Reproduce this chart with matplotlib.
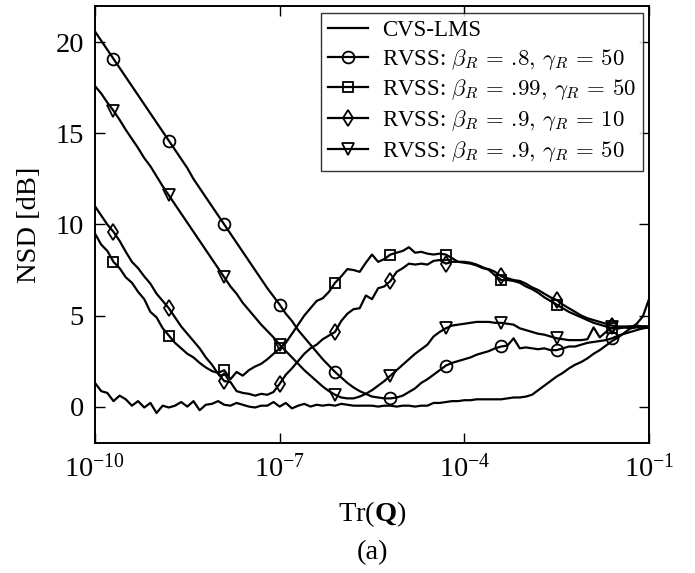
import numpy as np
import matplotlib
matplotlib.use("Agg")
import matplotlib.pyplot as plt
from matplotlib.font_manager import FontProperties
from matplotlib.ticker import FixedLocator, NullLocator

plt.rcParams['font.family'] = ['Liberation Serif', 'DejaVu Serif']
plt.rcParams['mathtext.fontset'] = 'custom'
plt.rcParams['mathtext.rm'] = 'Liberation Serif'
plt.rcParams['mathtext.it'] = 'Liberation Serif:italic'
plt.rcParams['mathtext.bf'] = 'Liberation Serif:bold'

# Tr(Q) exponent grid, 0.1 decade steps from 1e-10 to 1e-1
log_trq = np.linspace(-10, -1, 91)

cvs_lms = [1.3, 0.85, 0.75, 0.3, 0.6, 0.4, 0.05, 0.3, -0.05, 0.2,
           -0.35, 0.05, -0.05, 0.05, 0.25, 0.0, 0.3, -0.2, 0.1, 0.15,
           0.3, 0.1, 0.05, 0.2, 0.1, 0.0, -0.05, 0.05, 0.05, 0.25,
           0.0, 0.2, -0.1, 0.05, 0.15, 0.0, 0.1, 0.05, 0.1, 0.05,
           0.15, 0.1, 0.05, 0.05, 0.05, 0.05, 0.0, 0.05, 0.05, 0.0,
           0.05, 0.05, 0.0, 0.05, 0.05, 0.2, 0.2, 0.25, 0.3, 0.3,
           0.35, 0.35, 0.4, 0.4, 0.4, 0.4, 0.4, 0.45, 0.5, 0.5,
           0.55, 0.65, 0.9, 1.15, 1.4, 1.65, 1.85, 2.1, 2.3, 2.45,
           2.65, 2.9, 3.1, 3.35, 3.6, 3.8, 4.05, 4.3, 4.55, 4.95,
           5.9]

rvss_08_50 = [20.6, 20.1, 19.6, 19.1, 18.6, 18.1, 17.6, 17.1, 16.6, 16.1,
              15.6, 15.1, 14.6, 14.1, 13.6, 13.1, 12.5, 12.0, 11.5, 11.0,
              10.5, 10.0, 9.5, 9.0, 8.5, 8.0, 7.5, 7.0, 6.5, 6.05,
              5.6, 5.1, 4.7, 4.2, 3.8, 3.4, 3.0, 2.6, 2.25, 1.9,
              1.6, 1.3, 1.05, 0.85, 0.7, 0.55, 0.5, 0.45, 0.45, 0.5,
              0.6, 0.8, 1.0, 1.3, 1.5, 1.75, 2.0, 2.25, 2.4, 2.5,
              2.6, 2.7, 2.85, 2.95, 3.05, 3.2, 3.3, 3.35, 3.75, 3.2,
              3.25, 3.2, 3.15, 3.2, 3.1, 3.1, 3.2, 3.3, 3.3, 3.4,
              3.5, 3.55, 3.6, 3.65, 3.75, 3.9, 4.0, 4.1, 4.2, 4.3,
              4.35]

rvss_099_50 = [9.5, 8.9, 8.55, 7.95, 7.6, 7.1, 6.8, 6.3, 5.9, 5.2,
               4.9, 4.3, 3.9, 3.5, 3.2, 2.9, 2.7, 2.4, 2.15, 1.95,
               1.85, 2.0, 1.5, 1.9, 1.7, 2.0, 2.2, 2.35, 2.6, 2.9,
               3.2, 3.5, 4.0, 4.5, 5.0, 5.4, 5.8, 5.95, 6.3, 6.8,
               7.15, 7.55, 7.5, 7.4, 7.9, 8.35, 7.95, 8.1, 8.35, 8.45,
               8.55, 8.75, 8.45, 8.5, 8.4, 8.35, 8.4, 8.35, 8.15, 7.95,
               7.95, 7.9, 7.8, 7.65, 7.5, 7.2, 6.95, 6.95, 6.9, 6.8,
               6.6, 6.45, 6.25, 6.0, 5.8, 5.6, 5.4, 5.2, 5.05, 4.9,
               4.75, 4.6, 4.5, 4.4, 4.3, 4.3, 4.35, 4.4, 4.4, 4.4,
               4.4]

rvss_09_10 = [11.0, 10.5, 10.0, 9.6, 9.1, 8.5, 7.95, 7.6, 7.15, 6.75,
              6.2, 5.8, 5.4, 4.9, 4.4, 4.0, 3.6, 3.2, 2.7, 2.3,
              1.8, 1.4, 1.35, 0.85, 0.75, 0.7, 0.6, 0.7, 0.65, 0.8,
              1.25, 1.75, 2.1, 2.5, 2.9, 3.2, 3.4, 3.7, 3.9, 4.1,
              4.7, 5.1, 5.35, 5.4, 6.1, 5.9, 6.5, 6.6, 6.9, 7.4,
              7.6, 7.85, 7.8, 7.85, 7.8, 8.0, 8.05, 7.85, 7.95, 7.95,
              7.9, 7.85, 7.75, 7.6, 7.55, 7.4, 7.15, 7.05, 6.95, 6.9,
              6.75, 6.55, 6.4, 6.2, 6.0, 5.85, 5.6, 5.4, 5.2, 5.0,
              4.85, 4.75, 4.65, 4.55, 4.45, 4.4, 4.4, 4.4, 4.45, 4.4,
              4.4]

rvss_09_50 = [17.6, 17.2, 16.7, 16.25, 15.75, 15.2, 14.7, 14.2, 13.65, 13.2,
              12.65, 12.1, 11.6, 11.1, 10.6, 10.1, 9.6, 9.1, 8.6, 8.1,
              7.6, 7.1, 6.6, 6.2, 5.7, 5.3, 4.9, 4.5, 4.15, 3.8,
              3.4, 3.05, 2.7, 2.35, 2.0, 1.7, 1.4, 1.1, 0.85, 0.65,
              0.5, 0.45, 0.45, 0.55, 0.7, 0.9, 1.15, 1.4, 1.7, 2.0,
              2.3, 2.6, 2.9, 3.15, 3.4, 3.85, 4.1, 4.3, 4.45, 4.5,
              4.55, 4.6, 4.65, 4.65, 4.65, 4.6, 4.6, 4.55, 4.5, 4.3,
              4.2, 4.1, 4.0, 3.95, 3.85, 3.75, 3.7, 3.65, 3.65, 3.65,
              3.7, 4.35, 3.8, 4.1, 4.35, 4.3, 4.35, 4.3, 4.35, 4.3,
              4.35]

labels = ['CVS-LMS',
          r'RVSS: $\beta_R \,=\, .\!8,\, \gamma_R \,=\, 50$',
          r'RVSS: $\beta_R \,=\, .\!99,\, \gamma_R \,=\, 50$',
          r'RVSS: $\beta_R \,=\, .\!9,\, \gamma_R \,=\, 10$',
          r'RVSS: $\beta_R \,=\, .\!9,\, \gamma_R \,=\, 50$']
series = [cvs_lms, rvss_08_50, rvss_099_50, rvss_09_10, rvss_09_50]
markers = [None, 'o', 's', 'd', 'v']
msizes = [0, 8.5, 6.5, 8.5, 8.5]

trq = 10.0 ** log_trq

fig = plt.figure(figsize=(6.95, 5.73), dpi=100)
ax = fig.add_axes([95 / 695, 1 - 443 / 573, 554 / 695, 437 / 573])

for y, lab, m, ms in zip(series, labels, markers, msizes):
    ax.plot(trq, y, color='black', lw=1.6, marker=m, markersize=ms,
            markerfacecolor='none', markeredgewidth=1.3,
            markevery=(3, 9), label=lab)

ax.set_xscale('log')
ax.set_xlim(1e-10, 1e-1)
ax.set_ylim(-2, 22)
ax.xaxis.set_major_locator(FixedLocator([1e-10, 1e-7, 1e-4, 1e-1]))
ax.xaxis.set_minor_locator(NullLocator())
ax.set_yticks([0, 5, 10, 15, 20])

ax.tick_params(direction='in', length=7, width=1.0, top=True, right=True,
               labelsize=20.5, pad=8)
for s in ax.spines.values():
    s.set_linewidth(1.4)

ax.set_ylabel('NSD [dB]', fontsize=20.5, labelpad=10)
ax.set_xlabel(r'Tr($\mathbf{Q}$)', fontsize=20.5, labelpad=12)

leg_font = FontProperties(family='Liberation Serif', size=16.5,
                          math_fontfamily='cm')
leg = ax.legend(loc='upper right', bbox_to_anchor=(0.989, 0.984),
                borderaxespad=0, prop=leg_font, frameon=True, fancybox=False,
                edgecolor='black', handlelength=1.75, handletextpad=0.6,
                labelspacing=0.25, borderpad=0.3)
leg.get_frame().set_linewidth(1.0)

fig.text(372 / 695, 1 - 553 / 573, '(a)', fontsize=20.5,
         ha='center', va='center')

fig.savefig('out.png', dpi=100)
